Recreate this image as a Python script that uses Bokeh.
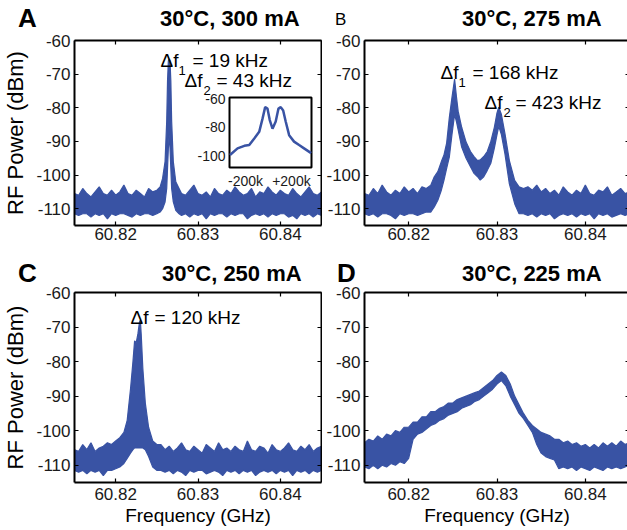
import math
from bokeh.plotting import figure
from bokeh.models import Range1d, LinearAxis, FixedTicker, Label, Div
from bokeh.layouts import column, row
from bokeh.embed import file_html
from bokeh.resources import INLINE

# ---------------- data ----------------
x_ticks = [60.82, 60.83, 60.84]
x_tick_labels = ["60.82", "60.83", "60.84"]
y_ticks = [-110, -100, -90, -80, -70, -60]
y_tick_labels = ["-110", "-100", "-90", "-80", "-70", "-60"]

panel_letters = ["A", "B", "C", "D"]
panel_titles = ["30°C, 300 mA", "30°C, 275 mA", "30°C, 250 mA", "30°C, 225 mA"]
y_label = "RF Power (dBm)"
x_label = "Frequency (GHz)"

# Panel A (300 mA)
A_freq = [60.8150, 60.8155, 60.8160, 60.8165, 60.8170, 60.8175, 60.8180, 60.8185, 60.8190, 60.8195,
          60.8200, 60.8205, 60.8210, 60.8215, 60.8220, 60.8225, 60.8230, 60.8235, 60.8240, 60.8245,
          60.8250, 60.8254,
          60.8257, 60.8260, 60.8262, 60.8263, 60.8264, 60.8265, 60.8266, 60.8267, 60.8268, 60.8270, 60.8273,
          60.8277, 60.8280, 60.8285, 60.8290, 60.8295, 60.8300, 60.8305, 60.8310, 60.8315, 60.8320,
          60.8325, 60.8330, 60.8335, 60.8340, 60.8345, 60.8350, 60.8355, 60.8360, 60.8365, 60.8370,
          60.8375, 60.8380, 60.8385, 60.8390, 60.8395, 60.8400, 60.8405, 60.8410, 60.8415, 60.8420,
          60.8425, 60.8430, 60.8435, 60.8440, 60.8445, 60.8450]
A_upper = [-105.5, -106.0, -104.0, -105.5, -106.5, -105.0, -103.5, -105.5, -106.0, -104.5,
           -106.0, -105.0, -103.0, -105.5, -106.0, -104.5, -105.5, -106.5, -104.0, -105.0,
           -104.5, -103.5,
           -101.0, -96.0, -84.0, -72.0, -66.0, -65.5, -66.0, -72.0, -84.0, -96.0, -102.0,
           -104.0, -105.5, -106.0, -104.5, -103.0, -105.5, -106.0, -105.0, -106.5, -104.0,
           -105.5, -106.0, -104.5, -105.5, -103.5, -105.0, -106.0, -105.5, -104.0, -106.5,
           -105.0, -105.5, -103.5, -105.0, -106.0, -104.5, -105.5, -106.0, -104.0, -105.5,
           -106.5, -105.0, -103.5, -105.5, -106.0, -105.0]
A_lower = [-111.5, -112.0, -111.5, -111.5, -112.5, -111.5, -112.0, -111.5, -113.0, -111.5,
           -112.0, -111.5, -111.5, -112.0, -112.5, -111.5, -112.0, -111.5, -111.5, -112.0,
           -111.5, -111.0,
           -110.0, -108.0, -104.0, -98.0, -92.0, -88.0, -92.0, -98.0, -104.0, -108.0, -110.5,
           -111.5, -112.0, -111.5, -112.5, -111.5, -112.0, -111.5, -113.0, -111.5, -112.0,
           -111.5, -111.5, -112.5, -111.5, -112.0, -111.5, -111.5, -113.0, -112.0, -111.5,
           -112.0, -111.5, -112.5, -111.5, -112.0, -111.5, -111.5, -112.5, -112.0, -113.0,
           -111.5, -112.0, -111.5, -112.5, -111.5, -112.0]

# Panel A inset (offset in kHz, dBm)
inset_offset_khz = [-336, -270, -211, -168, -124, -81, -52, -29, -9, 11, 35,
                    63, 87, 107, 128, 150, 180, 223, 267, 310, 372]
inset_power = [-99.3, -94.7, -92.9, -92.4, -87.8, -83.2, -74.0, -66.0, -67.0, -75.0, -81.0,
               -76.0, -67.0, -66.0, -68.3, -76.0, -85.5, -90.0, -92.4, -94.7, -98.0]
inset_x_ticks = [-200, 200]
inset_x_tick_labels = ["-200k", "+200k"]
inset_y_ticks = [-60, -80, -100]
inset_y_tick_labels = ["-60", "-80", "-100"]

# Panel B (275 mA)
B_freq = [60.8150, 60.8155, 60.8160, 60.8165, 60.8170, 60.8175, 60.8180, 60.8185, 60.8190, 60.8195,
          60.8200, 60.8205, 60.8210, 60.8215, 60.8220,
          60.8225, 60.8229, 60.8233, 60.8237, 60.8240, 60.8243, 60.8246, 60.8249, 60.8252, 60.8254,
          60.8256, 60.8260, 60.8265, 60.8270, 60.8274, 60.8278, 60.8281, 60.8285, 60.8289, 60.8293,
          60.8297, 60.8300, 60.8302, 60.8305, 60.8309, 60.8314, 60.8320, 60.8325, 60.8330,
          60.8335, 60.8340, 60.8345, 60.8350, 60.8355, 60.8360, 60.8365, 60.8370, 60.8375, 60.8380,
          60.8385, 60.8390, 60.8395, 60.8400, 60.8405, 60.8410, 60.8415, 60.8420, 60.8425, 60.8430,
          60.8435, 60.8440, 60.8445, 60.8450]
B_upper = [-105.5, -106.0, -104.0, -105.5, -103.0, -105.0, -106.0, -104.5, -105.5, -103.5,
           -105.0, -104.0, -105.5, -103.5, -104.0,
           -103.0, -100.5, -99.0, -96.0, -94.0, -90.5, -83.0, -77.0, -71.5, -76.5,
           -81.0, -85.8, -90.2, -93.0, -94.5, -95.7, -95.5, -94.5, -93.0, -90.0,
           -85.8, -81.5, -79.8, -82.0, -87.7, -95.7, -101.6, -103.5, -104.0,
           -103.5, -104.5, -103.0, -105.0, -104.0, -105.5, -104.5, -106.0, -103.5, -105.0,
           -106.0, -104.5, -105.5, -103.0, -105.5, -106.0, -104.5, -105.0, -103.5, -106.0,
           -105.0, -104.0, -105.5, -105.0]
B_lower = [-111.5, -112.0, -111.5, -112.5, -111.5, -111.5, -112.0, -113.0, -111.5, -112.0,
           -111.5, -111.5, -112.0, -111.5, -111.0,
           -111.0, -109.5, -107.5, -104.5, -101.5, -98.0, -94.7, -88.0, -82.0, -84.0,
           -86.5, -91.7, -95.0, -97.5, -99.5, -100.5, -101.5, -100.5, -98.6, -96.5,
           -92.0, -88.0, -85.5, -88.0, -93.7, -102.6, -108.5, -111.5, -111.5,
           -112.0, -111.5, -112.5, -111.5, -112.0, -111.5, -113.0, -112.0, -111.5, -112.0,
           -111.5, -112.5, -111.5, -112.0, -111.5, -113.0, -111.5, -112.0, -111.5, -112.5,
           -112.0, -111.5, -112.0, -111.5]

# Panel C (250 mA)
C_freq = [60.8150, 60.8155, 60.8160, 60.8165, 60.8170, 60.8175, 60.8180, 60.8185, 60.8190, 60.8195,
          60.8200, 60.8205, 60.8210, 60.8214, 60.8218, 60.8221, 60.8223, 60.8225, 60.8227, 60.8229,
          60.8230, 60.8231, 60.8233, 60.8236, 60.8240, 60.8245, 60.8250,
          60.8255, 60.8260, 60.8265, 60.8270, 60.8275, 60.8280, 60.8285, 60.8290, 60.8295, 60.8300,
          60.8305, 60.8310, 60.8315, 60.8320, 60.8325, 60.8330, 60.8335, 60.8340, 60.8345, 60.8350,
          60.8355, 60.8360, 60.8365, 60.8370, 60.8375, 60.8380, 60.8385, 60.8390, 60.8395, 60.8400,
          60.8405, 60.8410, 60.8415, 60.8420, 60.8425, 60.8430, 60.8435, 60.8440, 60.8445, 60.8450]
C_upper = [-105.5, -106.0, -104.0, -105.5, -103.5, -106.0, -105.0, -104.5, -103.5, -104.0,
           -103.0, -102.0, -100.5, -97.0, -88.0, -80.0, -74.0, -74.5, -72.0, -68.5,
           -68.0, -72.0, -82.0, -92.0, -99.0, -103.0, -104.0,
           -104.0, -105.5, -104.5, -106.0, -105.0, -103.5, -105.5, -106.0, -104.5, -105.5,
           -106.5, -104.0, -105.0, -106.0, -103.5, -105.5, -105.0, -106.0, -104.5, -105.5,
           -106.0, -103.0, -105.5, -106.0, -104.5, -105.0, -106.5, -104.0, -105.5, -106.0,
           -105.0, -103.5, -105.5, -106.0, -104.5, -105.5, -104.0, -106.0, -105.0, -104.5]
C_lower = [-111.5, -112.0, -111.5, -112.5, -111.5, -112.0, -111.5, -113.0, -111.5, -111.5,
           -111.0, -110.5, -109.5, -108.0, -106.5, -105.5, -105.0, -105.0, -105.0, -105.0,
           -105.0, -105.0, -105.0, -105.5, -107.5, -110.5, -111.5,
           -111.5, -112.0, -111.5, -112.5, -111.5, -112.0, -113.0, -111.5, -112.0, -111.5,
           -111.5, -112.5, -112.0, -111.5, -112.0, -113.0, -111.5, -112.0, -111.5, -112.5,
           -111.5, -112.0, -111.5, -113.0, -112.0, -111.5, -112.0, -111.5, -112.5, -111.5,
           -112.0, -111.5, -113.0, -111.5, -112.0, -111.5, -112.5, -111.5, -112.0, -111.5]

# Panel D (225 mA)
D_freq = [60.8150, 60.8155, 60.8160, 60.8165, 60.8170, 60.8175, 60.8180, 60.8185, 60.8190, 60.8195,
          60.8200, 60.8205, 60.8210, 60.8215, 60.8220, 60.8225, 60.8230, 60.8235, 60.8240, 60.8245,
          60.8250, 60.8255, 60.8260, 60.8265, 60.8270, 60.8275, 60.8280, 60.8285, 60.8290, 60.8295,
          60.8300, 60.8305, 60.8310, 60.8315, 60.8320, 60.8325, 60.8330, 60.8335, 60.8340, 60.8345,
          60.8350, 60.8355, 60.8360, 60.8365, 60.8370, 60.8375, 60.8380, 60.8385, 60.8390, 60.8395,
          60.8400, 60.8405, 60.8410, 60.8415, 60.8420, 60.8425, 60.8430, 60.8435, 60.8440, 60.8445,
          60.8450]
D_upper = [-103.5, -102.5, -103.0, -101.5, -102.5, -101.0, -101.5, -100.0, -100.5, -99.0,
           -99.0, -97.5, -97.5, -96.0, -96.0, -94.5, -94.5, -93.5, -93.0, -92.0,
           -92.0, -91.0, -90.5, -90.0, -89.5, -89.0, -88.5, -87.5, -86.5, -85.5,
           -84.0, -83.0, -84.0, -86.5, -90.0, -92.5, -95.0, -97.0, -98.5, -99.5,
           -100.5, -101.0, -101.5, -102.5, -102.5, -103.5, -103.0, -104.0, -103.5, -104.5,
           -104.0, -105.0, -104.0, -105.0, -103.5, -104.5, -103.5, -104.5, -103.0, -104.0,
           -103.5]
D_lower = [-110.5, -111.0, -110.0, -111.0, -110.0, -110.5, -109.5, -110.0, -109.0, -109.5,
           -108.0, -102.5, -101.0, -100.5, -99.5, -98.5, -98.0, -97.0, -96.5, -95.5,
           -95.0, -94.5, -93.5, -93.0, -92.5, -91.5, -91.0, -90.0, -89.0, -88.0,
           -86.5, -85.5, -87.0, -90.0, -92.5, -95.0, -96.5, -98.5, -100.5, -104.0,
           -106.5, -107.5, -108.0, -108.5, -111.0, -110.5, -111.0, -110.5, -111.5, -110.5,
           -111.0, -111.5, -110.5, -111.0, -111.5, -110.5, -111.0, -110.5, -111.0, -110.5,
           -110.0]

# Linewidth annotations
A_notes = [("Δf", "1", "= 19 kHz"), ("Δf", "2", "= 43 kHz")]
B_notes = [("Δf", "1", "= 168 kHz"), ("Δf", "2", "= 423 kHz")]
C_notes = [("Δf", "", "= 120 kHz")]

# ---------------- styling / layout ----------------
BLUE = "#3953a4"
FONT = "Liberation Sans"
X_RANGE = (60.815, 60.845)
Y_RANGE = (-115.0, -60.0)


def to_data(g, X, Y):
    """page pixel -> data coordinates for panel geometry g"""
    x = g["xr"][0] + (X - g["fl"]) / g["fw"] * (g["xr"][1] - g["xr"][0])
    y = g["yr"][1] - (Y - g["ft"]) / g["fh"] * (g["yr"][1] - g["yr"][0])
    return x, y


def text(p, g, X, Y, s, size):
    x, y = to_data(g, X, Y)
    p.add_layout(Label(x=x, y=y, text=s, text_font=FONT, text_font_size=f"{size}px",
                       text_align="left", text_baseline="alphabetic", text_color="black"))


def style_axis(ax):
    ax.axis_line_color = "black"
    ax.axis_line_width = 2
    ax.major_tick_in = 4
    ax.major_tick_out = 0
    ax.major_tick_line_width = 1.2
    ax.minor_tick_line_color = None


def make_panel(freq, upper, lower, g, bl, br, bt, bb, xstand, ylab=None, xlab=None):
    p = figure(frame_width=g["fw"], frame_height=g["fh"],
               x_range=Range1d(*X_RANGE), y_range=Range1d(*Y_RANGE),
               output_backend="svg", toolbar_location=None,
               min_border_left=bl, min_border_right=br, min_border_top=bt, min_border_bottom=bb,
               background_fill_color="white", border_fill_color=None)
    p.grid.visible = False
    p.outline_line_color = None
    p.varea(x=freq, y1=lower, y2=upper, color=BLUE)
    p.line(freq, upper, color=BLUE, line_width=1.2)
    p.line(freq, lower, color=BLUE, line_width=1.2)

    for ax in (p.xaxis[0], p.yaxis[0]):
        style_axis(ax)
        ax.major_label_text_font = FONT
        ax.major_label_text_font_size = "17px"
        ax.major_label_text_color = "#1a1a1a"
        ax.axis_label_text_font = FONT
        ax.axis_label_text_font_style = "normal"
        ax.axis_label_text_color = "black"
    p.xaxis.ticker = FixedTicker(ticks=x_ticks)
    p.xaxis.major_label_overrides = dict(zip(x_ticks, x_tick_labels))
    p.xaxis.major_label_standoff = xstand
    p.yaxis.ticker = FixedTicker(ticks=y_ticks)
    p.yaxis.major_label_overrides = dict(zip(y_ticks, y_tick_labels))
    p.yaxis.major_label_standoff = 4
    if ylab:
        p.yaxis.axis_label = ylab
        p.yaxis.axis_label_text_font_size = "22px"
        p.yaxis.axis_label_standoff = 5
    if xlab:
        p.xaxis.axis_label = xlab
        p.xaxis.axis_label_text_font_size = "19px"
        p.xaxis.axis_label_standoff = 2

    # box edges with inward ticks on top and right (MATLAB style)
    for loc, tick_list in (("above", x_ticks), ("right", y_ticks)):
        ax = LinearAxis(ticker=FixedTicker(ticks=tick_list))
        style_axis(ax)
        ax.major_label_overrides = {t: "" for t in tick_list}
        ax.major_label_text_color = None
        ax.major_label_text_font_size = "1px"
        ax.major_label_standoff = 0
        p.add_layout(ax, loc)
    return p


# frame geometries in page pixels
gA = dict(fl=72, ft=40, fw=247, fh=185, xr=X_RANGE, yr=Y_RANGE)
gB = dict(fl=362, ft=40, fw=265, fh=185, xr=X_RANGE, yr=Y_RANGE)
gC = dict(fl=72, ft=292, fw=247, fh=190, xr=X_RANGE, yr=Y_RANGE)
gD = dict(fl=362, ft=292, fw=265, fh=190, xr=X_RANGE, yr=Y_RANGE)

pA = make_panel(A_freq, A_upper, A_lower, gA, 72, 1, 10, 33, 2, ylab=y_label)
pB = make_panel(B_freq, B_upper, B_lower, gB, 42, 0, 10, 33, 2)
pC = make_panel(C_freq, C_upper, C_lower, gC, 72, 1, 9, 48, 5, ylab=y_label, xlab=x_label)
pD = make_panel(D_freq, D_upper, D_lower, gD, 42, 0, 9, 48, 5, xlab=x_label)

# ---- inset in panel A ----
box = dict(l=227, r=309, t=97, b=167)          # page px
inset_xr = (-340.0, 375.0)
inset_yr = (-108.0, -59.3)
sx = (inset_xr[1] - inset_xr[0]) / (box["r"] - box["l"])
sy = (inset_yr[1] - inset_yr[0]) / (box["b"] - box["t"])
fr = gA["fl"] + gA["fw"]
fb = gA["ft"] + gA["fh"]
pA.extra_x_ranges = {"ix": Range1d(inset_xr[0] - (box["l"] - gA["fl"]) * sx, inset_xr[1] + (fr - box["r"]) * sx)}
pA.extra_y_ranges = {"iy": Range1d(inset_yr[0] - (fb - box["b"]) * sy, inset_yr[1] + (box["t"] - gA["ft"]) * sy)}
pA.quad(left=[inset_xr[0]], right=[inset_xr[1]], bottom=[inset_yr[0]], top=[inset_yr[1]],
        x_range_name="ix", y_range_name="iy", fill_color="white", line_color="black", line_width=2)
pA.line(inset_offset_khz, inset_power, x_range_name="ix", y_range_name="iy", color=BLUE, line_width=2.5)
for v, s in zip(inset_x_ticks, inset_x_tick_labels):
    pA.add_layout(Label(x=v, y=inset_yr[0], x_range_name="ix", y_range_name="iy", y_offset=-5,
                        text=s, text_font=FONT, text_font_size="14px", text_align="center",
                        text_baseline="top", text_color="#1a1a1a"))
for v, s in zip(inset_y_ticks, inset_y_tick_labels):
    pA.add_layout(Label(x=inset_xr[0], y=v, x_range_name="ix", y_range_name="iy", x_offset=-4,
                        text=s, text_font=FONT, text_font_size="14px", text_align="right",
                        text_baseline="middle", text_color="#1a1a1a"))


# ---- linewidth notes ----
def note(p, g, X, Y, parts, sub_dx, eq_dx):
    d, sub, rest = parts
    text(p, g, X, Y, d, 19)
    if sub:
        text(p, g, X + sub_dx, Y + 10, sub, 13)
    text(p, g, X + eq_dx, Y, rest, 19)


note(pA, gA, 158, 60, A_notes[0], 18, 32)
note(pA, gA, 182, 80, A_notes[1], 19, 32)
note(pB, gB, 438, 72, B_notes[0], 18, 32)
note(pB, gB, 482, 102, B_notes[1], 19, 31)
note(pC, gC, 128, 317, C_notes[0], 0, 24)


# ---- title rows (panel letters + conditions) ----
def span(left, top, size, s, bold):
    w = "bold" if bold else "normal"
    return (f'<span style="position:absolute;left:{left}px;top:{top}px;font-family:\'{FONT}\';'
            f'font-size:{size}px;font-weight:{w};line-height:1;white-space:nowrap;color:black">{s}</span>')


def title_div(width, height, spans):
    html = (f'<div style="position:relative;width:{width}px;height:{height}px;margin:0;padding:0;'
            f'overflow:visible">' + "".join(spans) + "</div>")
    return Div(text=html, width=width, height=height, margin=0)


dA = title_div(320, 30, [span(18, 5, 26, panel_letters[0], True), span(160, 8, 22, panel_titles[0], True)])
dB = title_div(307, 30, [span(15, 11, 17, panel_letters[1], False), span(142, 8, 22, panel_titles[1], True)])
dC = title_div(320, 25, [span(18, 2, 26, panel_letters[2], True), span(162, 5, 22, panel_titles[2], True)])
dD = title_div(307, 25, [span(17, 2, 26, panel_letters[3], True), span(142, 5, 22, panel_titles[3], True)])

layout = column(row(dA, dB), row(pA, pB), row(dC, dD), row(pC, pD))
open("out.html", "w").write(file_html(layout, INLINE))
